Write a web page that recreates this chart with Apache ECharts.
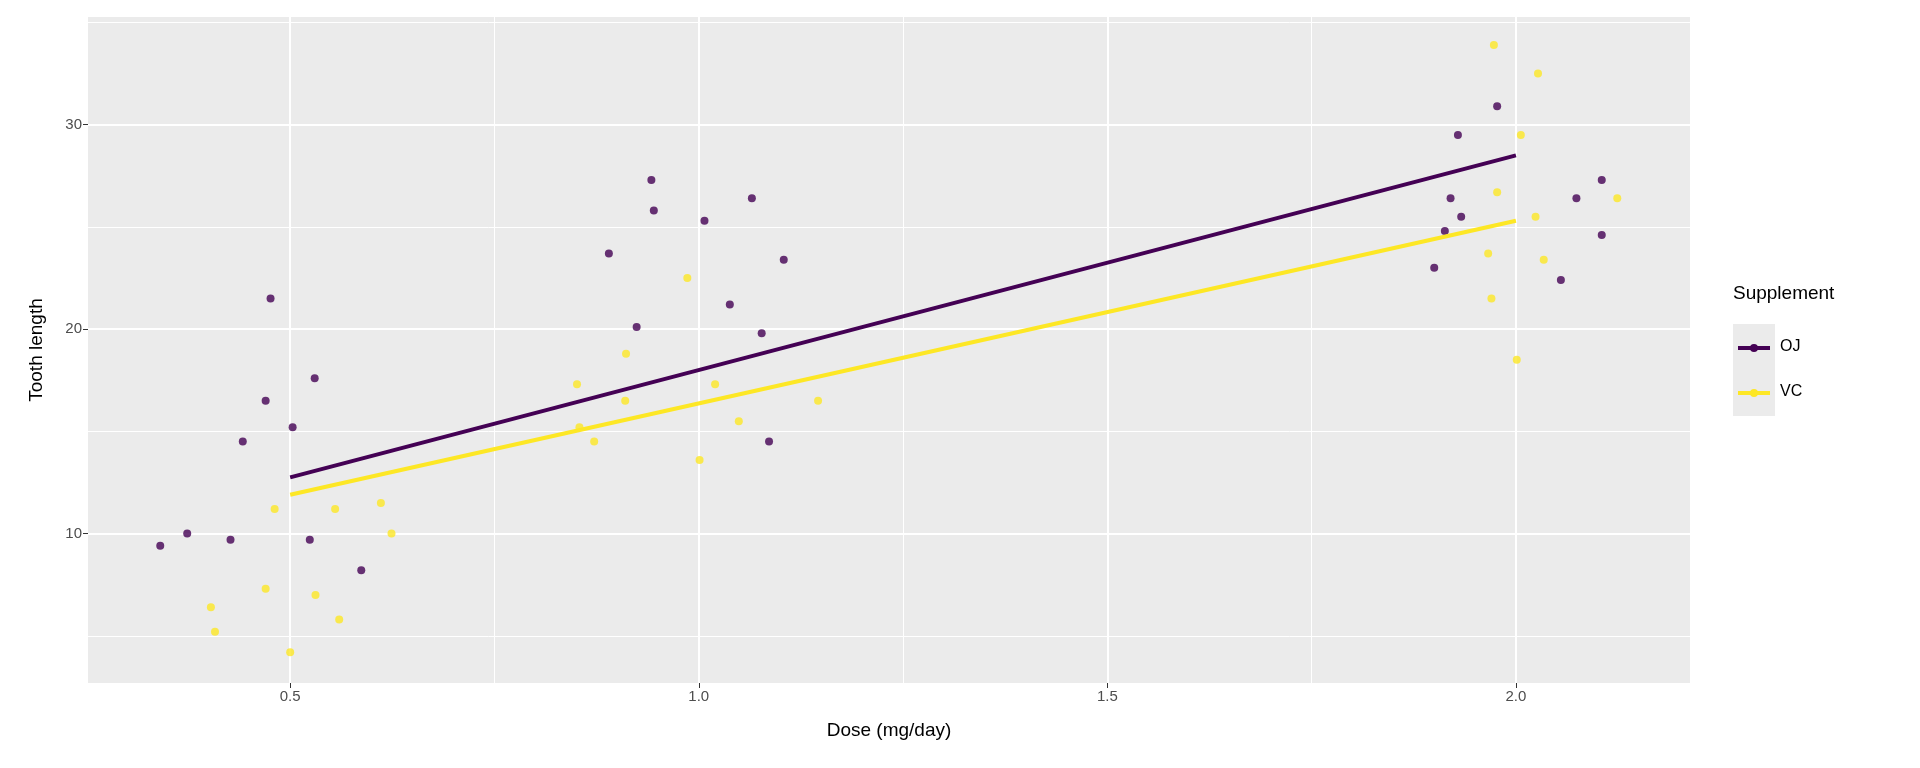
<!DOCTYPE html><html><head><meta charset="utf-8"><script src="https://cdn.jsdelivr.net/npm/echarts@6/dist/echarts.min.js"></script>
<style>html,body{margin:0;background:#fff}#c{width:1920px;height:768px}</style></head><body><div id="c"></div><script>
const ojPoints=[[0.341,9.4],[0.374,10.0],[0.427,9.7],[0.442,14.5],[0.476,21.5],[0.470,16.5],[0.503,15.2],[0.530,17.6],[0.524,9.7],[0.587,8.2],
[0.890,23.7],[0.942,27.3],[0.945,25.8],[0.924,20.1],[1.007,25.3],[1.038,21.2],[1.065,26.4],[1.077,19.8],[1.104,23.4],[1.086,14.5],
[1.977,30.9],[1.929,29.5],[1.920,26.4],[1.913,24.8],[1.933,25.5],[1.900,23.0],[2.074,26.4],[2.105,27.3],[2.105,24.6],[2.055,22.4]];
const vcPoints=[[0.403,6.4],[0.408,5.2],[0.481,11.2],[0.470,7.3],[0.500,4.2],[0.531,7.0],[0.555,11.2],[0.560,5.8],[0.611,11.5],[0.624,10.0],
[0.851,17.3],[0.854,15.2],[0.872,14.5],[0.911,18.8],[0.910,16.5],[0.986,22.5],[1.001,13.6],[1.020,17.3],[1.049,15.5],[1.146,16.5],
[1.973,33.9],[2.027,32.5],[2.006,29.5],[1.977,26.7],[2.024,25.5],[2.034,23.4],[1.966,23.7],[1.970,21.5],[2.001,18.5],[2.124,26.4]];
const ojLine=[[0.5,12.75],[2.0,28.5]];
const vcLine=[[0.5,11.9],[2.0,25.3]];
const xTicks=[0.5,1.0,1.5,2.0], xMinor=[0.75,1.25,1.75];
const yTicks=[10,20,30], yMinor=[5,15,25,35];
const groups=['OJ','VC'];
const PURPLE='#440154', YELLOW='#FDE725';
const gridLines=[].concat(
 xTicks.map(v=>({xAxis:v,lineStyle:{width:2}})), xMinor.map(v=>({xAxis:v,lineStyle:{width:1}})),
 yTicks.map(v=>({yAxis:v,lineStyle:{width:2}})), yMinor.map(v=>({yAxis:v,lineStyle:{width:1}})));
const F='Liberation Sans';
const legendG=[{type:'text',left:1733,top:284,style:{text:'Supplement',fontSize:19,fontFamily:F,fill:'#000'}},
 {type:'rect',left:1733,top:324,shape:{width:42,height:92},style:{fill:'#EBEBEB'}}];
[[groups[0],PURPLE,348],[groups[1],YELLOW,393]].forEach(([n,col,y])=>{
 legendG.push({type:'line',shape:{x1:1738,y1:y,x2:1770,y2:y},style:{stroke:col,lineWidth:4}});
 legendG.push({type:'circle',shape:{cx:1754,cy:y,r:4},style:{fill:col}});
 legendG.push({type:'text',left:1780,top:y-9,style:{text:n,fontSize:16,fontFamily:F,fill:'#000'}});
});
const c=echarts.init(document.getElementById('c'));
c.setOption({animation:false,
grid:{left:88,right:230,top:17,bottom:85,show:true,backgroundColor:'#EBEBEB',borderWidth:0},
xAxis:{type:'value',min:0.2526,max:2.213,splitLine:{show:false},axisLine:{show:false},
 axisTick:{show:true,customValues:xTicks,length:5,lineStyle:{color:'#333'}},
 axisLabel:{customValues:xTicks,formatter:v=>v.toFixed(1),color:'#4d4d4d',fontSize:15,fontFamily:F,margin:6},
 name:'Dose (mg/day)',nameLocation:'middle',nameGap:38,nameTextStyle:{color:'#000',fontSize:19,fontFamily:F}},
yAxis:{type:'value',min:2.69,max:35.27,splitLine:{show:false},axisLine:{show:false},
 axisTick:{show:true,customValues:yTicks,length:5,lineStyle:{color:'#333'}},
 axisLabel:{customValues:yTicks,color:'#4d4d4d',fontSize:15,fontFamily:F,margin:6},
 name:'Tooth length',nameLocation:'middle',nameGap:42,nameTextStyle:{color:'#000',fontSize:19,fontFamily:F}},
graphic:legendG,
series:[
{type:'scatter',data:[],silent:true,zlevel:0,z:0,markLine:{silent:true,symbol:'none',label:{show:false},lineStyle:{color:'#fff',type:'solid'},data:gridLines}},
{name:groups[0],type:'scatter',data:ojPoints,symbolSize:8,itemStyle:{color:PURPLE,opacity:0.8},zlevel:1},
{name:groups[1],type:'scatter',data:vcPoints,symbolSize:8,itemStyle:{color:YELLOW,opacity:0.8},zlevel:1},
{name:groups[0],type:'line',data:ojLine,showSymbol:false,lineStyle:{width:4,color:PURPLE},zlevel:1,z:4},
{name:groups[1],type:'line',data:vcLine,showSymbol:false,lineStyle:{width:4,color:YELLOW},zlevel:1,z:4}
]});
</script></body></html>
